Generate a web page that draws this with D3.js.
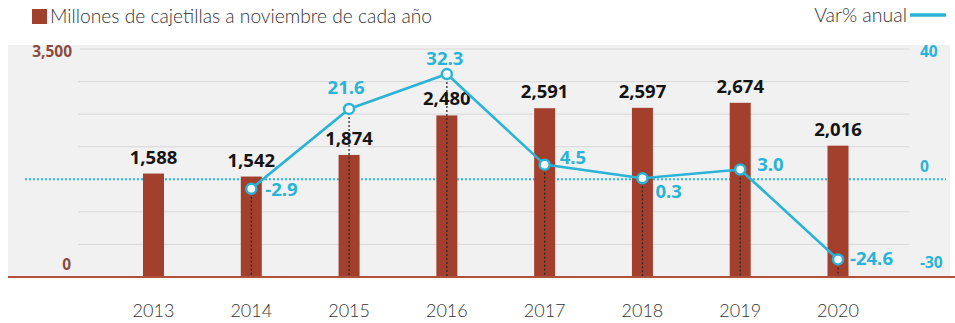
<!DOCTYPE html>
<html><head><meta charset="utf-8">
<script src="https://cdn.jsdelivr.net/npm/d3@7"></script>
<style>html,body{margin:0;padding:0;background:#fff;}svg{display:block;}</style>
</head><body>
<svg id="c" width="955" height="323"></svg>
<script>
const years = ["2013","2014","2015","2016","2017","2018","2019","2020"];
const packs = [1588,1542,1874,2480,2591,2597,2674,2016];
const varYears = ["2014","2015","2016","2017","2018","2019","2020"];
const varPct = [-2.9,21.6,32.3,4.5,0.3,3.0,-24.6];
const leftTicks = [0,500,1000,1500,2000,2500,3000,3500];
const leftTickLabels = ["0","3,500"];
const rightTickLabels = ["40","0","-30"];
const legendBars = "Millones de cajetillas a noviembre de cada año";
const legendLine = "Var% anual";

const BROWN = "#a3402d", AXBROWN = "#8c4a3f", CYAN = "#2ab3d6";
const svg = d3.select("#c");
const x = d3.scalePoint().domain(years).range([153.5, 838]);
const yL = d3.scaleLinear().domain([0,3500]).range([277,49]);
const yR = d3.scaleLinear().domain([-30,40]).range([277,49]);
const font = "'Open Sans', sans-serif";

// panel
svg.append("rect").attr("x",8).attr("y",45).attr("width",942).attr("height",232).attr("fill","#f1f1f1");

// gridlines
svg.append("g").selectAll("line").data(leftTicks.filter(d=>d>0 && d!==1500)).join("line")
  .attr("x1", d=> d===3500 ? 80 : 78).attr("x2",909)
  .attr("y1", d=>yL(d)).attr("y2", d=>yL(d))
  .attr("stroke","#d9d9d9").attr("stroke-width",1);

// zero dotted line
svg.append("line").attr("x1",25).attr("x2",946).attr("y1",yR(0)).attr("y2",yR(0))
  .attr("stroke",CYAN).attr("stroke-width",2).attr("stroke-dasharray","2,2");

// bars
const bw = 21;
svg.append("g").selectAll("rect").data(years).join("rect")
  .attr("x", (d)=>x(d)-bw/2).attr("width",bw)
  .attr("y",(d,i)=>yL(packs[i])).attr("height",(d,i)=>yL(0)-yL(packs[i]))
  .attr("fill",BROWN);

// baseline
svg.append("line").attr("x1",8).attr("x2",955).attr("y1",277).attr("y2",277)
  .attr("stroke","#b0503d").attr("stroke-width",2.2);

// dotted drop lines
svg.append("g").selectAll("line").data(varYears).join("line")
  .attr("x1",d=>x(d)).attr("x2",d=>x(d))
  .attr("y1",(d,i)=>yR(varPct[i])).attr("y2",276)
  .attr("stroke","#2a2a2a").attr("stroke-width",1.3).attr("stroke-dasharray","2,2");

// bar value labels
svg.append("g").selectAll("text").data(years).join("text")
  .attr("x",d=>x(d)).attr("y",(d,i)=>yL(packs[i])-10)
  .attr("text-anchor","middle").attr("font-family",font).attr("font-weight",700)
  .attr("font-size",18.5).attr("fill","#141414")
  .text((d,i)=>d3.format(",")(packs[i]));

// line
const line = d3.line().x((d,i)=>x(varYears[i])).y(d=>yR(d));
svg.append("path").datum(varPct).attr("d",line).attr("fill","none")
  .attr("stroke",CYAN).attr("stroke-width",2.6);
svg.append("g").selectAll("circle").data(varPct).join("circle")
  .attr("cx",(d,i)=>x(varYears[i])).attr("cy",d=>yR(d)).attr("r",5)
  .attr("fill","#fff").attr("stroke",CYAN).attr("stroke-width",2.5);

// line labels (offsets dx, dy, anchor)
const lblPos = [[14,7,"start"],[-3,-15,"middle"],[-2,-9,"middle"],[15,-1,"start"],[13,20,"start"],[17,1,"start"],[12,6,"start"]];
svg.append("g").selectAll("text").data(varPct).join("text")
  .attr("x",(d,i)=>x(varYears[i])+lblPos[i][0]).attr("y",(d,i)=>yR(d)+lblPos[i][1])
  .attr("text-anchor",(d,i)=>lblPos[i][2])
  .attr("font-family",font).attr("font-weight",700).attr("font-size",18.5).attr("fill",CYAN)
  .text(d=>d.toFixed(1));

// left axis labels
svg.append("text").attr("x",72).attr("y",57).attr("text-anchor","end")
  .attr("font-family",font).attr("font-weight",700).attr("font-size",15.5).attr("fill",AXBROWN).text(leftTickLabels[1]);
svg.append("text").attr("x",71).attr("y",270).attr("text-anchor","end")
  .attr("font-family",font).attr("font-weight",700).attr("font-size",15.5).attr("fill",AXBROWN).text(leftTickLabels[0]);
// right axis labels
const rPos = [[40,57],[0,172],[-30,268]];
svg.append("g").selectAll("text").data(rightTickLabels).join("text")
  .attr("x",920).attr("y",(d,i)=>rPos[i][1])
  .attr("font-family",font).attr("font-weight",700).attr("font-size",15.5).attr("fill",CYAN).text(d=>d);

// x axis year labels
svg.append("g").selectAll("text").data(years).join("text")
  .attr("x",d=>x(d)).attr("y",317).attr("text-anchor","middle")
  .attr("font-family","Lato, sans-serif").attr("font-weight",300).attr("font-size",18)
  .attr("fill","#333").text(d=>d);

// legend
svg.append("rect").attr("x",32).attr("y",9).attr("width",15).attr("height",15).attr("fill",BROWN);
svg.append("text").attr("x",50).attr("y",23).attr("font-family","Lato, sans-serif").attr("font-weight",300)
  .attr("font-size",19.5).attr("fill","#333").attr("textLength",382).attr("lengthAdjust","spacingAndGlyphs").text(legendBars);
svg.append("text").attr("x",907).attr("y",22).attr("text-anchor","end").attr("font-family","Lato, sans-serif").attr("font-weight",300)
  .attr("font-size",19.5).attr("fill","#333").text(legendLine);
svg.append("line").attr("x1",910).attr("x2",946).attr("y1",15).attr("y2",15).attr("stroke",CYAN).attr("stroke-width",3.5);
</script>
</body></html>
